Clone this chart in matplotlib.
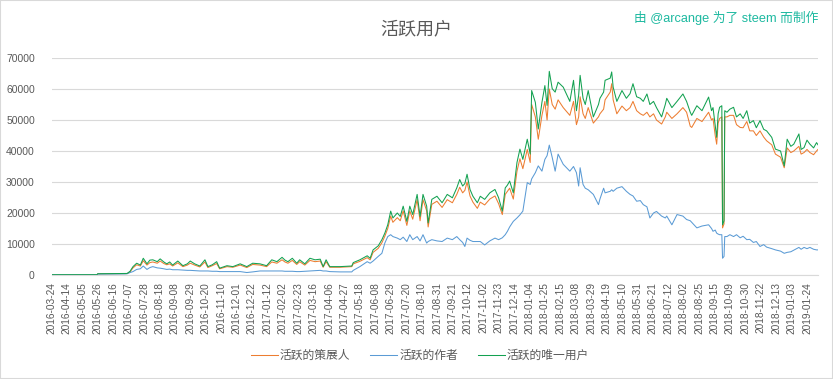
import matplotlib
matplotlib.use("Agg")
import matplotlib.pyplot as plt
from matplotlib.patches import Rectangle

plt.rcParams['font.family'] = ['Liberation Sans', 'Noto Sans CJK SC', 'DejaVu Sans']

title = "活跃用户"
credit = "由 @arcange 为了 steem 而制作"
series_names = ["活跃的策展人", "活跃的作者", "活跃的唯一用户"]

tick_labels = [
    "2016-03-24", "2016-04-14", "2016-05-05", "2016-05-26", "2016-06-16", "2016-07-07",
    "2016-07-28", "2016-08-18", "2016-09-08", "2016-09-29", "2016-10-20", "2016-11-10",
    "2016-12-01", "2016-12-22", "2017-01-12", "2017-02-02", "2017-02-23", "2017-03-16",
    "2017-04-06", "2017-04-27", "2017-05-18", "2017-06-08", "2017-06-29", "2017-07-20",
    "2017-08-10", "2017-08-31", "2017-09-21", "2017-10-12", "2017-11-02", "2017-11-23",
    "2017-12-14", "2018-01-04", "2018-01-25", "2018-02-15", "2018-03-08", "2018-03-29",
    "2018-04-19", "2018-05-10", "2018-05-31", "2018-06-21", "2018-07-12", "2018-08-02",
    "2018-08-25", "2018-09-15", "2018-10-09", "2018-10-30", "2018-11-22", "2018-12-13",
    "2019-01-03", "2019-01-24",
]
n_days = 1045
tick_step = 21

# day index of each sampled point (category position)
day_idx = [
    0, 62, 63, 100, 103, 107, 111, 116, 121, 125, 130, 134, 138, 144, 148, 153, 157, 161,
    165, 172, 179, 185, 189, 195, 202, 209, 213, 219, 225, 229, 239, 247, 257, 266, 274,
    284, 293, 300, 307, 314, 318, 322, 328, 334, 338, 345, 352, 359, 366, 370, 374, 379,
    393, 409, 411, 420, 430, 434, 438, 445, 450, 454, 458, 462, 465, 471, 475, 479, 484,
    488, 492, 498, 502, 506, 511, 513, 518, 525, 532, 539, 546, 552, 556, 560, 563, 566,
    570, 574, 580, 584, 590, 597, 604, 609, 614, 618, 621, 624, 629, 634, 638, 642, 648,
    652, 654, 659, 663, 668, 672, 675, 678, 682, 686, 690, 697, 706, 711, 715, 718, 720,
    724, 727, 731, 738, 745, 747, 752, 754, 761, 763, 765, 770, 777, 783, 788, 792, 797,
    802, 806, 811, 815, 820, 824, 831, 836, 838, 845, 852, 860, 865, 870, 872, 879, 886,
    895, 899, 901, 904, 906, 908, 910, 913, 914, 916, 917, 920, 924, 929, 933, 938, 942,
    947, 951, 956, 960, 965, 970, 974, 981, 986, 993, 998, 1002, 1007, 1011, 1018, 1021,
    1025, 1029, 1033, 1038, 1042, 1044,
]

curators = [
    80, 80, 380, 450, 450, 1000, 2300, 3300, 2900, 4600, 3200, 4000, 4200, 3800, 4500, 3700, 3300, 3600,
    2900, 3900, 2700, 3200, 3800, 3200, 2600, 4200, 2400, 3000, 3700, 2000, 2700, 2500, 3200, 2400, 3400,
    3200, 2700, 4200, 3800, 4900, 4200, 3800, 4700, 3400, 4300, 3200, 4700, 4300, 4500, 2500, 4300, 2500,
    2500, 2700, 3600, 4400, 5600, 4900, 7300, 8600, 10400, 12500, 15000, 19000, 17000, 18500, 17500, 20700, 16000,
    20700, 18000, 24300, 17500, 24300, 20700, 15500, 22800, 23800, 21800, 24300, 23300, 26000, 28300, 26500, 27300, 30000,
    25500, 23500, 21500, 23500, 22600, 24500, 25500, 23000, 19500, 26000, 27000, 28000, 24500, 33500, 37500, 34300, 40500,
    36300, 55000, 51000, 43800, 51500, 56000, 50000, 60000, 55000, 53500, 56500, 54000, 51500, 56000, 48500, 51000, 57500,
    52000, 50500, 54000, 49000, 51000, 52000, 53500, 56500, 59000, 61700, 56500, 52000, 54500, 53000, 54000, 56000, 53000,
    52000, 51500, 52500, 51000, 52000, 50000, 48700, 51000, 52500, 50500, 52000, 54000, 52500, 48000, 47600, 50500, 49500,
    52500, 50000, 50500, 45000, 42200, 49000, 50500, 51000, 15200, 16500, 51000, 51000, 51500, 51500, 48500, 47600, 47500,
    49500, 46500, 46500, 45000, 46500, 44500, 43300, 42000, 39000, 38000, 34600, 41000, 39500, 40000, 41500, 39000,
    39500, 40500, 39500, 38800, 40000, 40500,
]

authors = [
    60, 60, 300, 350, 400, 800, 1100, 1800, 2000, 2900, 1800, 2400, 2700, 2300, 2200, 2000, 1800, 1900,
    1700, 1700, 1600, 1500, 1500, 1400, 1300, 1300, 1300, 1200, 1200, 1100, 1100, 1100, 1100, 800, 1000,
    1300, 1300, 1300, 1300, 1300, 1200, 1200, 1200, 1100, 1100, 1200, 1300, 1400, 1500, 1300, 1300, 1100,
    1000, 1000, 1500, 2700, 4300, 3800, 4500, 6000, 7000, 10300, 12400, 13000, 12400, 11900, 11400, 12200, 10800,
    13000, 11400, 12400, 11000, 13000, 10300, 10800, 11400, 11000, 10800, 11900, 11400, 12400, 11400, 10500, 9200, 11900,
    11200, 10800, 10800, 10800, 9700, 11000, 11900, 11400, 12000, 13000, 14100, 15500, 17300, 18400, 19400, 20600, 29800,
    29200, 31000, 33000, 35200, 33500, 37300, 38500, 41900, 37900, 33500, 39000, 35700, 33500, 35000, 33000, 28700, 34600,
    29200, 28000, 27500, 26000, 22700, 24500, 28000, 26500, 27000, 27500, 27000, 28000, 28500, 27000, 26000, 25500, 23800,
    24000, 22700, 22000, 18400, 20000, 20500, 19000, 18400, 19000, 16200, 19500, 19000, 17900, 17500, 17000, 15200, 15800,
    16200, 15000, 14100, 14500, 13500, 13200, 13000, 13000, 5400, 6000, 12400, 12400, 13000, 12400, 13000, 12000, 12500,
    11400, 11500, 10500, 10800, 9200, 9800, 9000, 8500, 8100, 7700, 7000, 7300, 7500, 8000, 8900, 8300,
    8900, 8500, 8900, 8300, 8100, 8100,
]

unique_users = [
    100, 100, 400, 500, 500, 1200, 2700, 3800, 3200, 5400, 3600, 4800, 4900, 4300, 5200, 4200, 3600, 4200,
    3200, 4500, 3000, 3600, 4500, 3600, 2900, 4900, 2700, 3300, 4300, 2200, 3000, 2700, 3600, 2700, 3800,
    3600, 3000, 4900, 4300, 5700, 4800, 4300, 5400, 3800, 4900, 3600, 5400, 4900, 5100, 2700, 4900, 2700,
    2700, 2900, 4000, 4900, 6200, 5400, 8100, 9400, 11400, 13500, 16200, 20600, 18400, 20000, 18900, 22200, 17300,
    22200, 19500, 26000, 18900, 26000, 22200, 16800, 24400, 25400, 23300, 26000, 24900, 28100, 30800, 28700, 29500, 32500,
    27600, 25400, 23300, 25400, 24400, 26500, 27600, 24900, 20600, 28100, 29000, 30300, 26500, 36300, 40600, 37300, 43800,
    39000, 59500, 55700, 47100, 55700, 61100, 54700, 65700, 60100, 59000, 62200, 60600, 56000, 62800, 53000, 58000, 64400,
    57000, 55000, 59500, 51000, 55000, 57000, 59000, 62800, 63500, 65500, 60600, 56000, 59500, 57000, 58500, 61700, 57500,
    57000, 56000, 58400, 55000, 56000, 54000, 51000, 55000, 57000, 54000, 56000, 58400, 56000, 52500, 51500, 54600, 53000,
    57400, 53000, 54000, 48200, 44400, 52000, 54100, 54600, 16200, 17500, 53000, 52500, 53500, 54100, 51000, 52000, 50500,
    53000, 49000, 49800, 47500, 49800, 47000, 46500, 44400, 40600, 40000, 35200, 43800, 41500, 42200, 45500, 40500,
    41100, 43500, 42200, 41000, 42700, 42000,
]

colors = ["#ED7D31", "#5B9BD5", "#13A151"]
text_grey = "#595959"
grid_grey = "#D9D9D9"

fig = plt.figure(figsize=(8.33, 3.79), dpi=100)
fig.patches.append(Rectangle((0, 0), 1, 1, transform=fig.transFigure, fill=False,
                             edgecolor="#D9D9D9", linewidth=1.5))
ax = fig.add_axes([51.5 / 833, 1 - 275 / 379, (818 - 51.5) / 833, (275 - 58) / 379])

for vals, name, c in zip([curators, authors, unique_users], series_names, colors):
    ax.plot(day_idx, vals, color=c, linewidth=0.75, label=name)

ax.set_xlim(0, n_days - 1)
ax.set_ylim(0, 70000)
ax.set_yticks(range(0, 70001, 10000))
ax.set_yticklabels([str(v) for v in range(0, 70001, 10000)], fontsize=7.5, color=text_grey)
ax.set_xticks([i * tick_step for i in range(len(tick_labels))])
ax.set_xticklabels(tick_labels, rotation=90, fontsize=7.3, color=text_grey)
ax.tick_params(axis="both", length=0)
ax.tick_params(axis="y", pad=12)
ax.tick_params(axis="x", pad=5)
ax.grid(axis="y", color=grid_grey, linewidth=0.8)
ax.set_axisbelow(True)
for s in ["top", "right", "left"]:
    ax.spines[s].set_visible(False)
ax.spines["bottom"].set_color(grid_grey)
ax.spines["bottom"].set_linewidth(0.8)

fig.text(0.5, 1 - 30 / 379, title, ha="center", va="center", fontsize=13, color=text_grey)
fig.text(818 / 833, 1 - 18 / 379, credit, ha="right", va="center", fontsize=9.2, color="#1DB9A0")

fig.legend(loc="center", bbox_to_anchor=(420 / 833, 1 - 356 / 379), ncol=3, frameon=False,
           fontsize=8.5, handlelength=2.3, columnspacing=1.7, handletextpad=0.15,
           labelcolor=text_grey)

fig.savefig("out.png", dpi=100)
